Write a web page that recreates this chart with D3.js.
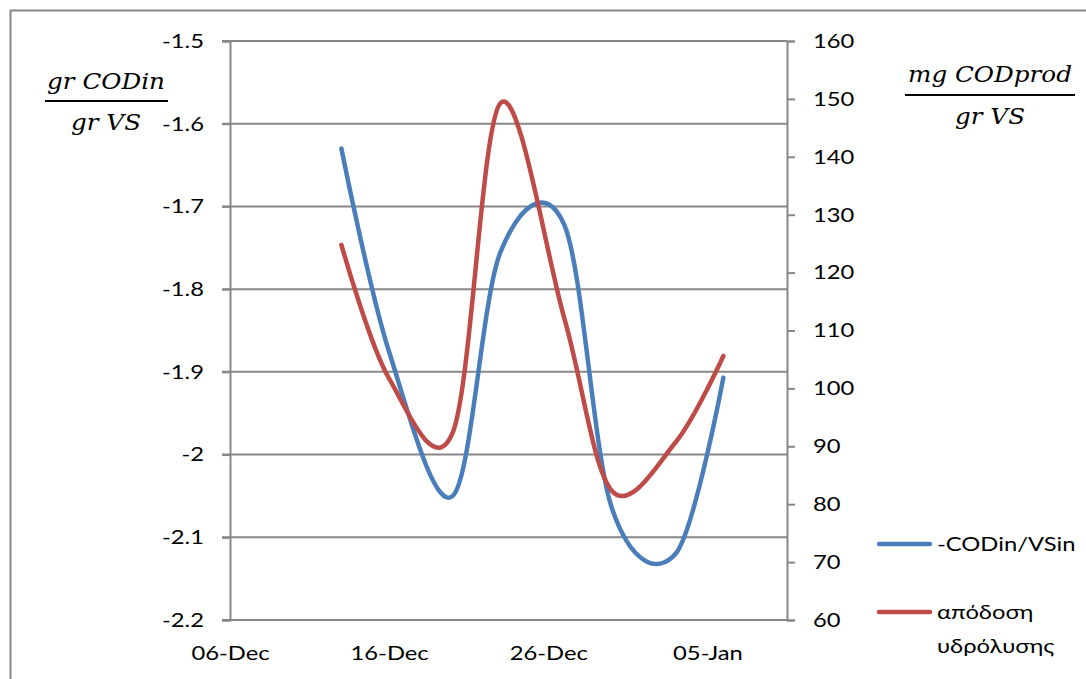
<!DOCTYPE html>
<html>
<head>
<meta charset="utf-8">
<script src="https://cdn.jsdelivr.net/npm/d3@7"></script>
<style>
  html, body { margin: 0; padding: 0; background: #fff; }
  svg { display: block; }
</style>
</head>
<body>
<script>
// Sampling dates and the two measured series
const sampleDates = ["2012-12-13", "2012-12-16", "2012-12-20", "2012-12-23",
                     "2012-12-27", "2012-12-30", "2013-01-03", "2013-01-06"];
const codInPerVS = [-1.63, -1.876, -2.05, -1.755, -1.722, -2.065, -2.12, -1.907];
const hydrolysisYield = [124.8, 101.7, 92.4, 149.3, 112.2, 82.3, 90.7, 105.6];

// Axis ticks
const xTickDates = ["2012-12-06", "2012-12-16", "2012-12-26", "2013-01-05"];
const leftTickLabels = ["-2.2", "-2.1", "-2", "-1.9", "-1.8", "-1.7", "-1.6", "-1.5"];
const rightTickLabels = ["60", "70", "80", "90", "100", "110", "120", "130", "140", "150", "160"];

const seriesNames = ["-CODin/VSin", "απόδοση υδρόλυσης"];
const seriesColors = ["#4A7EBB", "#BE4B48"];

const W = 1086, H = 679;
const gridColor = "#878787";
const labelFont = "Lato, 'Open Sans', sans-serif";
const mathFont = "'DejaVu Serif', serif";
const SX = 1.2;        // horizontal widening of the label glyphs
const MSX = 1.12;      // same for the italic unit fractions
const FS = 19.8;

const parse = d3.utcParse("%Y-%m-%d");
const dates = sampleDates.map(parse);

const svg = d3.select("body").append("svg")
  .attr("width", W).attr("height", H);

svg.append("rect").attr("width", W).attr("height", H).attr("fill", "#fff");

// chart frame (runs off the right and bottom edges)
svg.append("rect")
  .attr("x", 10.5).attr("y", 10.5)
  .attr("width", W + 20).attr("height", H + 20)
  .attr("fill", "none").attr("stroke", gridColor).attr("stroke-width", 2);

const x = d3.scaleUtc()
  .domain([parse("2012-12-06"), parse("2013-01-10")])
  .range([230, 787]);
const yL = d3.scaleLinear().domain([-2.2, -1.5]).range([620, 41]);
const yR = d3.scaleLinear().domain([60, 160]).range([620, 41]);

// horizontal gridlines on the left-axis ticks
svg.append("g").selectAll("line")
  .data(leftTickLabels.map(Number))
  .join("line")
  .attr("x1", 222).attr("x2", 787)
  .attr("y1", d => yL(d)).attr("y2", d => yL(d))
  .attr("stroke", gridColor).attr("stroke-width", 2);

function widen(textSel, sx) {
  textSel.each(function () {
    const t = d3.select(this);
    const tx = +t.attr("x") || 0;
    t.attr("x", 0).attr("transform", `translate(${tx},0) scale(${sx},1)`);
  });
}

// left axis
const gL = svg.append("g").attr("transform", "translate(230,0)")
  .call(d3.axisLeft(yL)
    .tickValues(leftTickLabels.map(Number))
    .tickFormat((d, i) => leftTickLabels[i])
    .tickSize(8).tickPadding(18));
gL.select(".domain").attr("stroke", gridColor).attr("stroke-width", 2);
gL.selectAll(".tick line").attr("stroke", gridColor).attr("stroke-width", 2);
gL.selectAll(".tick text")
  .attr("font-family", labelFont).attr("font-size", FS).attr("fill", "#000")
  .call(widen, SX);

// right axis
const gR = svg.append("g").attr("transform", "translate(787,0)")
  .call(d3.axisRight(yR)
    .tickValues(rightTickLabels.map(Number))
    .tickFormat((d, i) => rightTickLabels[i])
    .tickSize(8).tickPadding(18));
gR.select(".domain").attr("stroke", gridColor).attr("stroke-width", 2);
gR.selectAll(".tick line").attr("stroke", gridColor).attr("stroke-width", 2);
gR.selectAll(".tick text")
  .attr("font-family", labelFont).attr("font-size", FS).attr("fill", "#000")
  .call(widen, SX);

// date axis labels (no tick marks, baseline drawn by the -2.2 gridline)
const gX = svg.append("g").attr("transform", "translate(0,620)")
  .call(d3.axisBottom(x)
    .tickValues(xTickDates.map(parse))
    .tickFormat(d3.utcFormat("%d-%b"))
    .tickSize(0).tickPadding(26));
gX.select(".domain").remove();
gX.selectAll(".tick text")
  .attr("font-family", labelFont).attr("font-size", FS).attr("fill", "#000")
  .call(widen, SX);

// series lines
const curve = d3.curveCardinal.tension(0);
const lineL = d3.line().x((d, i) => x(dates[i])).y(d => yL(d)).curve(curve);
const lineR = d3.line().x((d, i) => x(dates[i])).y(d => yR(d)).curve(curve);

svg.append("path").datum(codInPerVS)
  .attr("d", lineL).attr("fill", "none")
  .attr("stroke", seriesColors[0]).attr("stroke-width", 4.5)
  .attr("stroke-linecap", "round").attr("stroke-linejoin", "round");

svg.append("path").datum(hydrolysisYield)
  .attr("d", lineR).attr("fill", "none")
  .attr("stroke", seriesColors[1]).attr("stroke-width", 4.5)
  .attr("stroke-linecap", "round").attr("stroke-linejoin", "round");

// unit fractions for each value axis
function fraction(cx, numY, barY, denY, barX1, barX2, num, den) {
  const g = svg.append("g");
  [[num, numY], [den, denY]].forEach(([txt, ty]) => {
    g.append("text")
      .attr("transform", `translate(${cx},${ty}) scale(${MSX},1)`)
      .attr("text-anchor", "middle")
      .attr("font-family", mathFont).attr("font-style", "italic")
      .attr("font-size", 22).attr("fill", "#000")
      .text(txt);
  });
  g.append("line")
    .attr("x1", barX1).attr("x2", barX2).attr("y1", barY).attr("y2", barY)
    .attr("stroke", "#000").attr("stroke-width", 2);
}
fraction(106, 89, 101, 130, 45, 168, "gr CODin", "gr VS");
fraction(990, 82, 95, 124, 905, 1075, "mg CODprod", "gr VS");

// legend
const legend = svg.append("g");
const legendRows = [{ y: 544, lines: [seriesNames[0]] },
                    { y: 612, lines: ["απόδοση", "υδρόλυσης"] }];
legendRows.forEach((row, i) => {
  legend.append("line")
    .attr("x1", 879).attr("x2", 930).attr("y1", row.y).attr("y2", row.y)
    .attr("stroke", seriesColors[i]).attr("stroke-width", 4.5)
    .attr("stroke-linecap", "round");
  row.lines.forEach((t, k) => {
    legend.append("text")
      .attr("transform", `translate(937,${row.y + k * 34}) scale(${SX},1)`)
      .attr("dy", "0.35em")
      .attr("font-family", labelFont).attr("font-size", FS).attr("fill", "#000")
      .text(t);
  });
});
</script>
</body>
</html>
